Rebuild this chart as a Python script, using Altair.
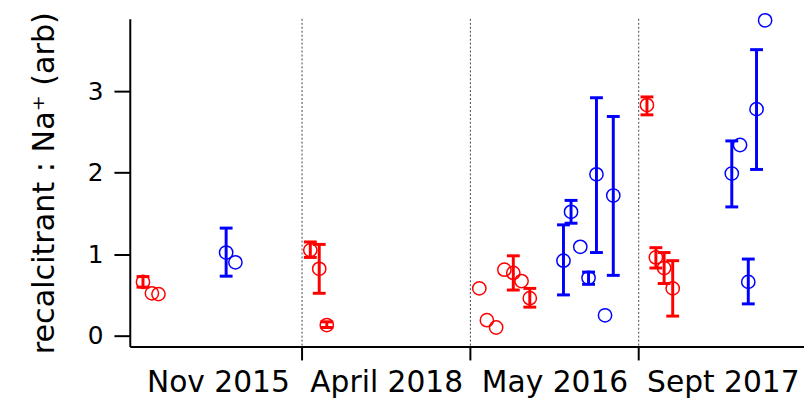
import altair as alt
import pandas as pd

# ---- data ----
categories = ["Nov 2015", "April 2018", "May 2016", "Sept 2017"]
dividers = [1, 2, 3]

red_x  = [0.055, 0.108, 0.147, 1.049, 1.102, 1.147,
          2.053, 2.098, 2.153, 2.202, 2.255, 2.304, 2.353,
          3.049, 3.102, 3.151, 3.202]
red_y  = [0.66, 0.52, 0.51, 1.05, 0.82, 0.13,
          0.58, 0.19, 0.10, 0.81, 0.77, 0.67, 0.46,
          2.83, 0.96, 0.83, 0.58]
red_lo = [0.595, None, None, 0.96, 0.52, 0.10,
          None, None, None, None, 0.56, None, 0.35,
          2.71, 0.83, 0.64, 0.24]
red_hi = [0.725, None, None, 1.15, 1.12, 0.17,
          None, None, None, None, 0.98, None, 0.58,
          2.93, 1.08, 1.02, 0.92]

blue_x  = [0.549, 0.604,
           2.553, 2.598, 2.653, 2.702, 2.749, 2.800, 2.849,
           3.553, 3.602, 3.651, 3.700, 3.751]
blue_y  = [1.02, 0.90,
           0.92, 1.52, 1.09, 0.71, 1.98, 0.25, 1.72,
           1.99, 2.34, 0.66, 2.78, 3.87]
blue_lo = [0.73, None,
           0.50, 1.38, None, 0.63, 1.02, None, 0.74,
           1.58, None, 0.39, 2.04, None]
blue_hi = [1.32, None,
           1.36, 1.66, None, 0.78, 2.92, None, 2.69,
           2.39, None, 0.94, 3.51, None]

rows = []
for xs, ys, los, his, s in [(red_x, red_y, red_lo, red_hi, "red"),
                            (blue_x, blue_y, blue_lo, blue_hi, "blue")]:
    for x, y, lo, hi in zip(xs, ys, los, his):
        rows.append({"x": x, "y": y, "lo": lo, "hi": hi, "series": s})
df = pd.DataFrame(rows)
err = df.dropna(subset=["lo", "hi"])
div_df = pd.DataFrame({"x": dividers})

FONT = "DejaVu Sans"
W, H = 681, 331

xscale = alt.Scale(domain=[-0.0235, 3.982], nice=False, zero=False)
yscale = alt.Scale(domain=[-0.134, 3.888], nice=False, zero=False)
color = alt.Color("series:N", scale=alt.Scale(domain=["red", "blue"], range=["#FF0000", "#0000FF"]), legend=None)

label_expr = "[" + ",".join("'%s'" % c for c in categories) + "][floor(datum.value)]"

xaxis = alt.Axis(values=[0.5, 1.5, 2.5, 3.5], ticks=False, labelExpr=label_expr,
                 labelFontSize=30, labelFont=FONT, labelColor="black", labelPadding=21,
                 domainColor="black", domainWidth=2, grid=False, title=None, labelFlush=False)
yaxis = alt.Axis(values=[0, 1, 2, 3], format="d", tickSize=16, tickWidth=2, tickColor="black",
                 domainColor="black", domainWidth=2, grid=False,
                 labelFontSize=25, labelFont=FONT, labelColor="black", labelPadding=11,
                 title="recalcitrant : Na\u207a (arb)", titleFontSize=30.5, titleFont=FONT,
                 titleFontWeight="normal", titleColor="black", titlePadding=28)

base_pts = alt.Chart(df).mark_point(shape="circle", filled=False, size=180, strokeWidth=1.5, opacity=1).encode(
    x=alt.X("x:Q", scale=xscale, axis=xaxis),
    y=alt.Y("y:Q", scale=yscale, axis=yaxis),
    color=color,
)

bars = alt.Chart(err).mark_rule(strokeWidth=3).encode(
    x=alt.X("x:Q", scale=xscale), y=alt.Y("lo:Q", scale=yscale), y2="hi:Q", color=color)
cap_lo = alt.Chart(err).mark_tick(orient="horizontal", size=13, thickness=3, opacity=1).encode(
    x=alt.X("x:Q", scale=xscale), y=alt.Y("lo:Q", scale=yscale), color=color)
cap_hi = alt.Chart(err).mark_tick(orient="horizontal", size=13, thickness=3, opacity=1).encode(
    x=alt.X("x:Q", scale=xscale), y=alt.Y("hi:Q", scale=yscale), color=color)

div_lines = alt.Chart(div_df).mark_rule(color="#444444", strokeWidth=1, strokeDash=[2, 2]).encode(
    x=alt.X("x:Q", scale=xscale), y=alt.value(0), y2=alt.value(H))
div_ticks = alt.Chart(div_df).mark_rule(color="black", strokeWidth=2).encode(
    x=alt.X("x:Q", scale=xscale), y=alt.value(H), y2=alt.value(H + 14))

chart = alt.layer(div_lines, div_ticks, base_pts, bars, cap_lo, cap_hi).properties(
    width=W, height=H,
    background="white",
    autosize=alt.AutoSizeParams(type="none"),
    padding={"left": 123, "top": 9, "right": 0, "bottom": 53},
).configure_view(stroke=None)

chart.save("out.html", embed_options={"renderer": "svg", "actions": False})
